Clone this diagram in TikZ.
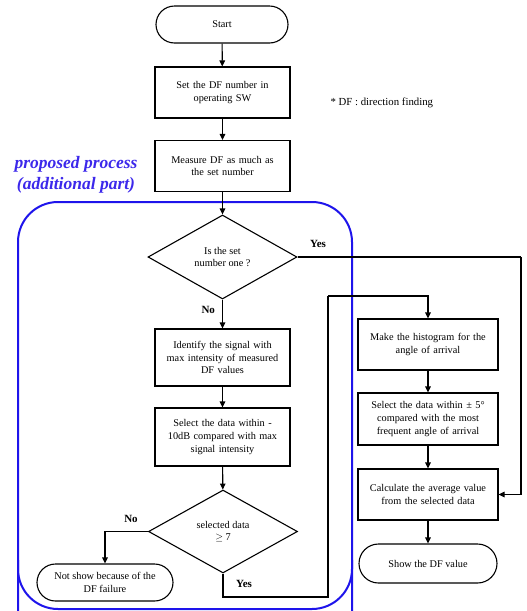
\documentclass[tikz,border=0pt]{standalone}
\usepackage{fontspec}
\setmainfont{Liberation Serif}
\usetikzlibrary{shapes.geometric,shapes.misc,arrows.meta}
\definecolor{procblue}{RGB}{30,20,235}
\definecolor{labblue}{RGB}{60,40,235}
\tikzset{
  x=1pt,y=-1pt,
  base/.style={draw=black,line width=1.1pt,align=center,font=\fontsize{10.3}{12.7}\selectfont,inner sep=1pt},
  box/.style={base,rectangle,minimum width=135pt,minimum height=51pt,text width=130pt},
  term/.style={base,rounded rectangle,minimum height=37pt},
  decide/.style={base,diamond,minimum width=149pt,minimum height=84pt},
  arrow/.style={draw=black,line width=1.1pt,-{Triangle[length=6pt,width=5.5pt]}},
  conn/.style={draw=black,line width=1.1pt},
  lab/.style={font=\fontsize{11}{12}\selectfont\bfseries,inner sep=0pt}
}
\begin{document}
\begin{tikzpicture}
\useasboundingbox (0,0) rectangle (527,611);
% blue region
\draw[procblue,line width=2pt,rounded corners=40pt] (18,640) -- (18,202) -- (352,202) -- (352,640);
\draw[procblue,line width=2pt,rounded corners=40pt] (18,560) -- (18,609) -- (352,609) -- (352,560);
\node[labblue,font=\fontsize{17.5}{21}\selectfont\bfseries\itshape,align=center] (pp) at (76,174.5) {proposed process\\(additional part)};
\node[font=\fontsize{10.8}{12}\selectfont,anchor=west] (note) at (327,103) {* DF : direction finding};
% nodes
\node[term,minimum width=134pt] (start) at (222,24.5) {Start};
\node[box] (setdf) at (222.5,92.5) {Set the DF number in\\operating SW};
\node[box] (meas) at (222.5,166) {Measure DF as much as\\the set number};
\node[decide] (d1) at (222.5,257) {Is the set\\number one ?};
\node[box,minimum height=57pt] (ident) at (222.5,357.5) {Identify the signal with\\max intensity of measured\\DF values};
\node[box,minimum height=58pt] (sel) at (222.5,437) {Select the data within -\\10dB compared with max\\signal intensity};
\node[decide,minimum height=83pt] (d2) at (223,531.5) {selected data\\$\geq$ 7};
\node[term,minimum width=138pt] (nots) at (105,582.5) {Not show because of the\\DF failure};
\node[box,minimum width=140pt,minimum height=51pt] (hist) at (428,344.5) {Make the histogram for the\\angle of arrival};
\node[box,minimum width=140pt,minimum height=52pt] (sel2) at (428,419) {Select the data within ± 5°\\compared with the most\\frequent angle of arrival};
\node[box,minimum width=140pt,minimum height=51pt] (calc) at (428,494.5) {Calculate the average value\\from the selected data};
\node[term,minimum width=140pt,minimum height=39pt] (show) at (428,563.5) {Show the DF value};
% coordinates
\coordinate (c1) at (328,597);
\coordinate (c2) at (328,296);
\coordinate (c3) at (521,257);
% connectors
\draw[arrow] (start) -- (setdf);
\draw[arrow] (setdf) -- (meas);
\draw[arrow] (meas) -- (d1);
\draw[arrow] (d1) -- (ident) node[lab,pos=0.35,left=7pt] (no1) {No};
\draw[arrow] (ident) -- (sel);
\draw[arrow] (sel) -- (d2);
\draw[arrow] (d2.west) -| (nots.north);
\node[lab] (no2) at (131,519) {No};
\draw[conn] (d2.south) |- (c1) -- (c2);
\draw[arrow] (c2) -| (hist.north);
\node[lab] (yes2) at (244,584) {Yes};
\draw[conn] (d1.east) -- (c3);
\draw[arrow] (c3) |- (calc.east);
\node[lab] (yes1) at (318,244) {Yes};
\draw[arrow] (hist) -- (sel2);
\draw[arrow] (sel2) -- (calc);
\draw[arrow] (calc) -- (show);
\end{tikzpicture}
\end{document}
